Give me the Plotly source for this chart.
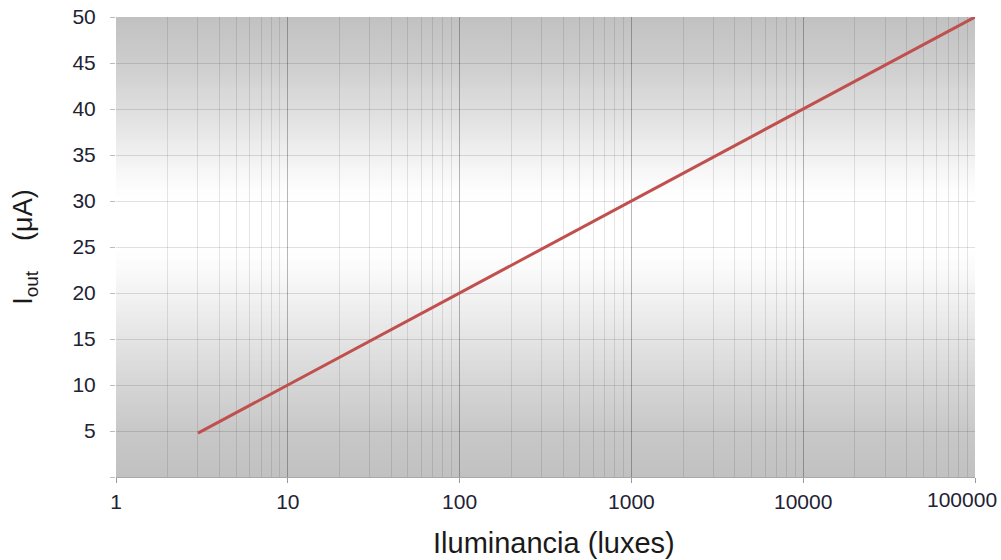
import numpy as np
import plotly.graph_objects as go

# Illuminance (lux) and output current (µA)
lux = [3, 10, 100, 1000, 10000, 100000]
i_out = [4.77, 10, 20, 30, 40, 50]

x_ticks = [1, 10, 100, 1000, 10000, 100000]
x_ticktext = ["1", "10", "100", "1000", "10000", "100000"]
y_ticks = [0, 5, 10, 15, 20, 25, 30, 35, 40, 45, 50]
y_ticktext = [""] + [str(v) for v in y_ticks[1:]]

# minor decade lines 2..9 in every decade
minor_vals = [m * 10 ** d for d in range(5) for m in range(2, 10)]

fig = go.Figure()
fig.add_trace(go.Scatter(
    x=lux, y=i_out, mode="lines",
    line=dict(color="#c0504d", width=3),
    showlegend=False, hoverinfo="skip",
))

# vertical grey gradient of the plot background (dark at top and bottom, white in the middle)
grad_at = [0, 5, 10, 15, 20, 23, 25, 30, 32, 35, 40, 45, 50]
grad_grey = [193, 200, 213, 228, 243, 251, 255, 255, 251, 240, 222, 205, 193]
n_bands = 150
shapes = []
for k in range(n_bands):
    y0 = k / n_bands
    y1 = (k + 1) / n_bands
    g = int(round(np.interp((y0 + y1) / 2 * 50, grad_at, grad_grey)))
    shapes.append(dict(
        type="rect", xref="x domain", yref="y domain",
        x0=0, x1=1, y0=y0, y1=min(1, y1 + 0.002),
        fillcolor=f"rgb({g},{g},{g})", line=dict(width=0), layer="below",
    ))

font_family = "Liberation Sans, Arial, sans-serif"
tick_font = dict(family=font_family, size=21, color="#222233")
sp = "\u00a0"

# the last decade label is kept inside the page, right-aligned near the edge
shown_ticktext = x_ticktext[:-1] + [""]
annotations = [
    dict(x=np.log10(x_ticks[-1]), xref="x", y=0, yref="paper",
         text=x_ticktext[-1], showarrow=False, font=tick_font,
         xanchor="right", yanchor="top", xshift=24, yshift=-9),
    dict(x=0.51, xref="paper", y=0, yref="paper",
         text="Iluminancia (luxes)", showarrow=False,
         font=dict(family=font_family, size=29, color="#1a1a1a"),
         xanchor="center", yanchor="middle", yshift=-66),
]

fig.update_layout(
    width=1001, height=560,
    margin=dict(l=116, r=26, t=17, b=83),
    paper_bgcolor="white", plot_bgcolor="white",
    shapes=shapes, annotations=annotations,
    font=dict(family=font_family, color="#222222"),
    xaxis=dict(
        type="log", range=[0, 5], automargin=False,
        tickvals=x_ticks, ticktext=shown_ticktext,
        tickfont=tick_font, ticklabelstandoff=1,
        showgrid=True, gridcolor="rgba(0,0,0,0.28)", gridwidth=1,
        ticks="outside", ticklen=5, tickcolor="#999999",
        showline=True, linecolor="#a8a8a8", linewidth=1,
        minor=dict(tickvals=minor_vals, showgrid=True,
                   gridcolor="rgba(0,0,0,0.10)", gridwidth=1, ticks=""),
        zeroline=False,
    ),
    yaxis=dict(
        range=[0, 50], automargin=False,
        tickvals=y_ticks, ticktext=y_ticktext,
        tickfont=tick_font, ticklabelstandoff=10,
        showgrid=True, gridcolor="rgba(0,0,0,0.12)", gridwidth=1,
        ticks="outside", ticklen=5, tickcolor="#bbbbbb",
        showline=False, zeroline=False,
        title=dict(text="I<sub>out</sub>" + sp * 4 + "(μA)",
                   font=dict(size=27, color="#1a1a1a"), standoff=31),
    ),
)

fig.write_html("out.html")
